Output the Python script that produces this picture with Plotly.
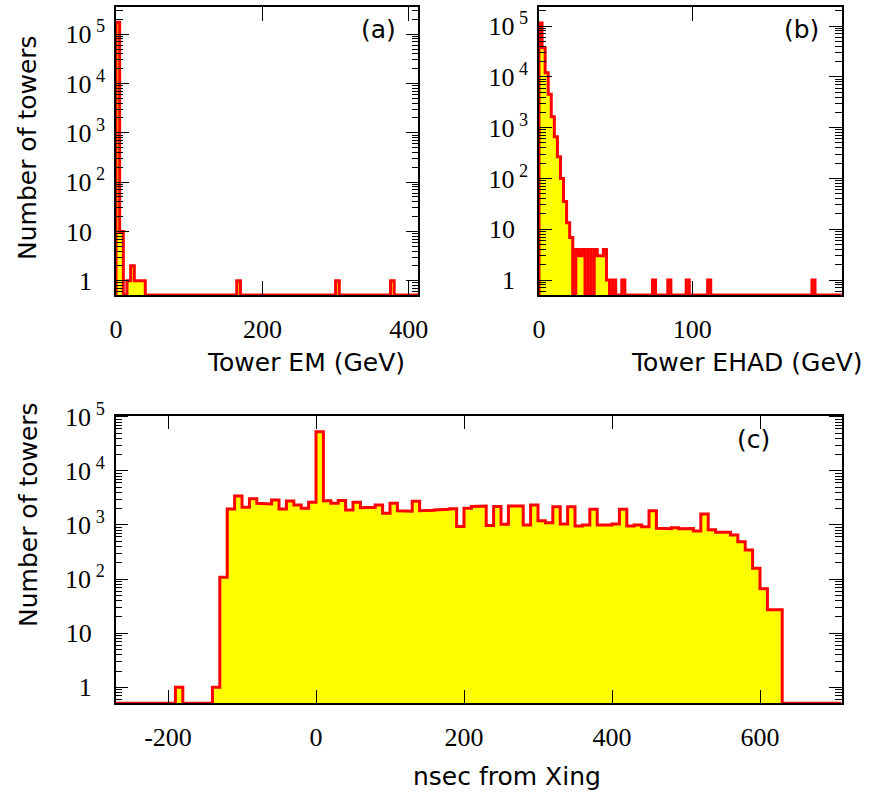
import plotly.graph_objects as go

# ---------------- data ----------------
# (a) Tower EM (GeV): 5 GeV bins, non-empty bins only (lower edge, count)
a_bin_width = 5
a_range = (0, 415)
a_bin_lo = [0, 5, 15, 20, 25, 30, 35, 165, 300, 375]
a_counts = [175000, 10, 1, 2, 1, 1, 1, 1, 1, 1]

# (b) Tower EHAD (GeV): 2 GeV bins
b_bin_width = 2
b_range = (0, 198)
b_bin_lo = [0, 2, 4, 6, 8, 10, 12, 14, 16, 18, 20, 24, 26, 28, 32, 36, 38, 40, 42, 44, 48,
            54, 74, 84, 96, 110, 178]
b_counts = [114000, 37400, 12000, 4530, 1640, 662, 267, 100, 35, 13.4, 6.9, 4, 3, 4, 4, 4, 3, 3, 4, 1, 1,
            1, 1, 1, 1, 1, 1]

# (c) nsec from Xing: 10 ns bins
c_bin_width = 10
c_range = (-270, 710)
c_bin_lo = [-190] + list(range(-140, 630, 10))
c_counts = [1,
            1, 108, 1977, 3436, 2125, 3066, 2515, 2440, 2896, 1977,
            2780, 2344, 2036, 2630, 53100, 2810, 2515, 2840, 1893, 2630,
            2090, 2125, 2344, 1650, 2515, 1835, 1800, 2750, 1840, 1870,
            1900, 1950, 2000, 940, 2030, 2200, 2250, 980, 2200, 1030,
            2250, 2250, 1000, 2340, 1200, 1100, 2180, 1043, 2180, 955,
            1000, 1950, 1000, 1000, 1040, 1950, 955, 1000, 930, 1840,
            870, 850, 890, 850, 860, 774, 1600, 820, 733, 733,
            653, 492, 345, 158, 66, 27, 27]

y_tick_vals = [1, 10, 100, 1000, 10000, 100000]
y_tick_text = ["1\u00a0\u00a0", "10\u00a0\u00a0", "10<sup> 2</sup>", "10<sup> 3</sup>",
               "10<sup> 4</sup>", "10<sup> 5</sup>"]
a_xticks = [0, 200, 400]
b_xticks = [0, 100]
c_xticks = [-200, 0, 200, 400, 600]

# ---------------- helpers ----------------
W, H = 869, 797


def full_hist(lo, hi, width, bin_lo, counts):
    n = int(round((hi - lo) / width))
    vals = [0.0] * n
    for b, c in zip(bin_lo, counts):
        vals[int(round((b - lo) / width))] = c
    edges = [lo + i * width for i in range(n + 1)]
    return edges, vals


def step_xy(edges, vals, floor):
    xs, ys = [edges[0]], [floor]
    for i, v in enumerate(vals):
        vv = v if v > floor else floor
        xs += [edges[i], edges[i + 1]]
        ys += [vv, vv]
    xs.append(edges[-1])
    ys.append(floor)
    return xs, ys


def dom_x(p0, p1):
    return [p0 / W, p1 / W]


def dom_y(top, bottom):
    return [1 - bottom / H, 1 - top / H]


panels = [
    dict(key="", hist=(a_range, a_bin_width, a_bin_lo, a_counts), xr=[0, 413], yr=[-0.29, 5.546],
         dx=dom_x(116, 418.3), dy=dom_y(7.3, 295), xt=a_xticks, so=10),
    dict(key="2", hist=(b_range, b_bin_width, b_bin_lo, b_counts), xr=[0, 197.4], yr=[-0.295, 5.374],
         dx=dom_x(539, 841.7), dy=dom_y(7, 295), xt=b_xticks, so=10),
    dict(key="3", hist=(c_range, c_bin_width, c_bin_lo, c_counts), xr=[-270.7, 710.4], yr=[-0.296, 5.02],
         dx=dom_x(115.7, 841.7), dy=dom_y(415.7, 703.3), xt=c_xticks, so=10),
]

fig = go.Figure()
tick_font = dict(family="Liberation Serif", size=26, color="black")
layout = {}
for p in panels:
    (lo, hi), wdt, bl, cn = p["hist"]
    edges, vals = full_hist(lo, hi, wdt, bl, cn)
    floor = 10 ** p["yr"][0]
    xs, ys = step_xy(edges, vals, floor)
    fig.add_trace(go.Scatter(
        x=xs, y=ys, mode="lines", fill="toself", fillcolor="#ffff00",
        line=dict(color="#ff0000", width=3), hoverinfo="skip", showlegend=False,
        xaxis="x" + p["key"], yaxis="y" + p["key"]))
    layout["xaxis" + p["key"]] = dict(
        domain=p["dx"], range=p["xr"], anchor="y" + p["key"], automargin=False,
        showgrid=False, zeroline=False, showline=True, linecolor="black", linewidth=1.5,
        mirror="allticks", ticks="inside", ticklen=14, tickwidth=1, tickcolor="black",
        tickmode="array", tickvals=p["xt"], ticktext=[str(v) for v in p["xt"]],
        tickfont=tick_font, ticklabelstandoff=p["so"])
    layout["yaxis" + p["key"]] = dict(
        domain=p["dy"], range=p["yr"], type="log", anchor="x" + p["key"], automargin=False,
        showgrid=False, zeroline=False, showline=True, linecolor="black", linewidth=1.5,
        mirror="allticks", ticks="inside", ticklen=13, tickwidth=1, tickcolor="black",
        tickmode="array", tickvals=y_tick_vals, ticktext=y_tick_text,
        tickfont=tick_font, ticklabelstandoff=4,
        minor=dict(ticks="inside", ticklen=7, tickwidth=1, tickcolor="black", dtick="D1"))

title_font = dict(family="DejaVu Sans", size=25, color="black")
annots = [
    ("Number of towers", 28, 148, -90),
    ("Number of towers", 28, 515, -90),
    ("Tower EM (GeV)", 306, 362, 0),
    ("Tower EHAD (GeV)", 747, 362, 0),
    ("nsec from Xing", 507, 776, 0),
    ("(a)", 378.5, 29, 0),
    ("(b)", 801.5, 29, 0),
    ("(c)", 753.5, 439, 0),
]
annotations = [dict(text=t, x=x / W, y=1 - y / H, xref="paper", yref="paper",
                    xanchor="center", yanchor="middle", showarrow=False,
                    textangle=ang, font=title_font) for t, x, y, ang in annots]

fig.update_layout(
    width=W, height=H, margin=dict(l=0, r=0, t=0, b=0, pad=0, autoexpand=False),
    paper_bgcolor="white", plot_bgcolor="white", showlegend=False,
    annotations=annotations, **layout)

fig.write_html("out.html", config=dict(responsive=False, displayModeBar=False),
               post_script="document.body.style.margin='0';document.body.style.overflow='hidden';")
